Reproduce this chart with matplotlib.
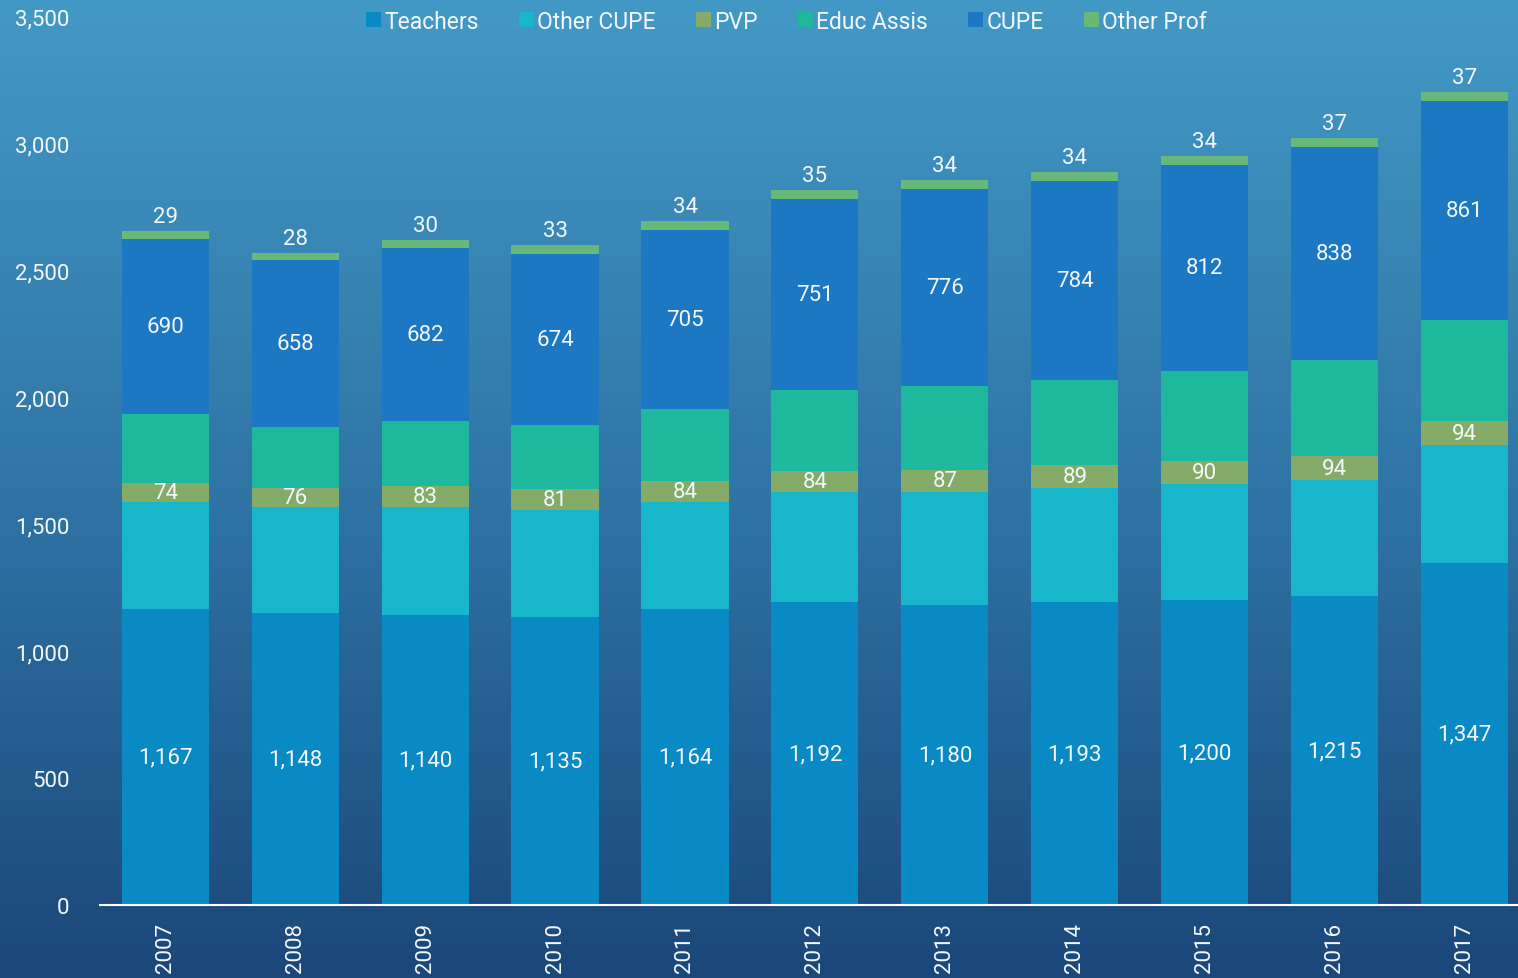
import numpy as np
import matplotlib
matplotlib.use("Agg")
import matplotlib.pyplot as plt
from matplotlib.colors import LinearSegmentedColormap

years = ["2007", "2008", "2009", "2010", "2011", "2012", "2013", "2014", "2015", "2016", "2017"]
teachers = [1167, 1148, 1140, 1135, 1164, 1192, 1180, 1193, 1200, 1215, 1347]
other_cupe = [420, 419, 427, 420, 423, 434, 446, 449, 457, 458, 464]
pvp = [74, 76, 83, 81, 84, 84, 87, 89, 90, 94, 94]
educ_assis = [272, 239, 256, 254, 282, 318, 330, 336, 355, 379, 398]
cupe = [690, 658, 682, 674, 705, 751, 776, 784, 812, 838, 861]
other_prof = [29, 28, 30, 33, 34, 35, 34, 34, 34, 37, 37]

series = [
    ("Teachers", teachers, "#0A8AC5", True),
    ("Other CUPE", other_cupe, "#17B6CA", False),
    ("PVP", pvp, "#84AC68", True),
    ("Educ Assis", educ_assis, "#1DB89E", False),
    ("CUPE", cupe, "#1C78C2", True),
    ("Other Prof", other_prof, "#68B87A", False),
]

plt.rcParams["font.family"] = ["Roboto", "DejaVu Sans"]

fig = plt.figure(figsize=(15.18, 9.79), dpi=100)

# gradient background
bg = fig.add_axes([0, 0, 1, 1], zorder=0)
cmap = LinearSegmentedColormap.from_list("bg", ["#1B477A", "#2F75A6", "#4399C6"])
grad = np.linspace(0, 1, 256).reshape(-1, 1)
bg.imshow(grad, aspect="auto", cmap=cmap, origin="lower", extent=[0, 1, 0, 1])
bg.axis("off")

ax = fig.add_axes([0.066, 0.0746, 0.934, 0.908], zorder=1)
ax.patch.set_alpha(0)

x = np.arange(len(years))
bottom = np.zeros(len(years))
for name, vals, color, inside in series:
    vals = np.array(vals, dtype=float)
    bars = ax.bar(x, vals, 0.67, bottom=bottom, color=color, label=name)
    if inside:
        ax.bar_label(bars, labels=["{:,}".format(int(v)) for v in vals],
                     label_type="center", color="#F4F8FB", fontsize=16)
    bottom += vals

# other prof labels sit above the stack
ax.bar_label(bars, labels=["{:,}".format(v) for v in other_prof],
             padding=3, color="#F4F8FB", fontsize=16)

ax.set_xlim(-0.5, 10.41)
ax.set_ylim(0, 3500)
ax.set_yticks(np.arange(0, 3501, 500))
ax.set_yticklabels(["{:,}".format(v) for v in range(0, 3501, 500)])
ax.set_xticks(x)
ax.set_xticklabels(years, rotation=90)
ax.tick_params(axis="y", length=0, pad=22, colors="#F4F8FB", labelsize=16)
ax.tick_params(axis="x", length=0, pad=12, colors="#F4F8FB", labelsize=16)
for s in ["top", "right", "left"]:
    ax.spines[s].set_visible(False)
ax.spines["bottom"].set_color("white")
ax.spines["bottom"].set_linewidth(1.5)

leg = ax.legend(loc="center", bbox_to_anchor=(0.484, 0.994), ncol=6, frameon=False,
                fontsize=16.5, labelcolor="#F4F8FB", handlelength=0.65, handleheight=0.65,
                handletextpad=0.15, columnspacing=1.75)

fig.savefig("out.png", dpi=100)
